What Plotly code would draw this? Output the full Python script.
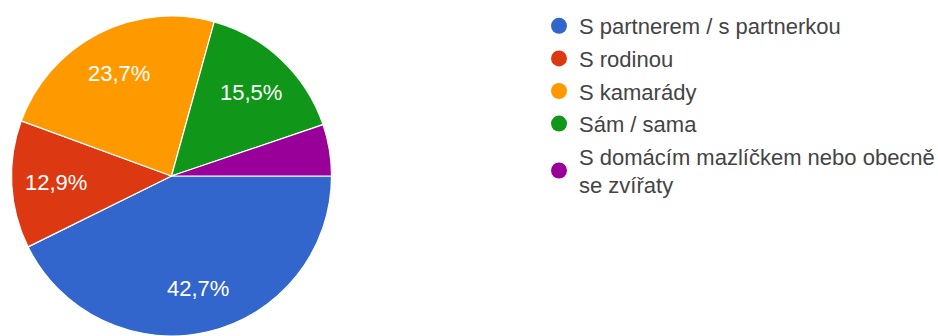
import math
import plotly.graph_objects as go

labels = [
    "S partnerem / s partnerkou",
    "S rodinou",
    "S kamarády",
    "Sám / sama",
    "S domácím mazlíčkem nebo obecně<br>se zvířaty",
]
shares = [42.7, 12.9, 23.7, 15.5, 5.2]
colors = ["#3366CC", "#DC3912", "#FF9900", "#109618", "#990099"]
text_labels = ["42,7%", "12,9%", "23,7%", "15,5%", ""]

W, H = 938, 336
cx, cy, r = 171.5, 176, 160
label_radius = 0.72
font_family = "Arial, Liberation Sans, sans-serif"

fig = go.Figure()

fig.add_trace(
    go.Pie(
        labels=labels,
        values=shares,
        textinfo="none",
        marker=dict(colors=colors, line=dict(color="white", width=1.2)),
        sort=False,
        direction="clockwise",
        rotation=90,
        showlegend=False,
        hoverinfo="label+percent",
        domain=dict(
            x=[(cx - r) / W, (cx + r) / W],
            y=[(H - cy - r) / H, (H - cy + r) / H],
        ),
    )
)

# Percent labels at each slice's mid-angle (clockwise from 3 o'clock)
total = sum(shares)
acc = 0.0
for share, txt in zip(shares, text_labels):
    mid = (acc + share / 2) / total
    acc += share
    if not txt:
        continue
    theta = 2 * math.pi * mid
    px = cx + label_radius * r * math.cos(theta)
    py = cy + label_radius * r * math.sin(theta)
    fig.add_annotation(
        x=px / W,
        y=1 - py / H,
        xref="paper",
        yref="paper",
        text=txt,
        showarrow=False,
        xanchor="center",
        yanchor="middle",
        font=dict(family=font_family, size=22, color="white"),
    )

# Legend entries with round markers
for i, (name, col) in enumerate(zip(labels, colors)):
    fig.add_trace(
        go.Scatter(
            x=[None],
            y=[None],
            mode="markers",
            name=name,
            legendgroup=f"g{i}",
            marker=dict(symbol="circle", size=20, color=col),
            hoverinfo="skip",
        )
    )

fig.update_layout(
    width=W,
    height=H,
    margin=dict(l=0, r=0, t=0, b=0, autoexpand=False),
    paper_bgcolor="white",
    plot_bgcolor="white",
    xaxis=dict(visible=False, domain=[0.99, 1]),
    yaxis=dict(visible=False),
    showlegend=True,
    legend=dict(
        x=539 / W,
        y=1 - 5 / H,
        xanchor="left",
        yanchor="top",
        font=dict(family=font_family, size=22, color="#444444"),
        bgcolor="rgba(0,0,0,0)",
        tracegroupgap=1,
        itemclick=False,
        itemdoubleclick=False,
    ),
)

fig.write_html("out.html")
